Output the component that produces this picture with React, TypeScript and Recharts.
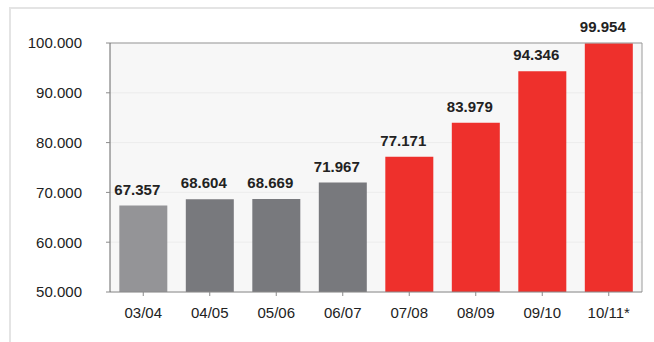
import { Bar, BarChart, CartesianGrid, Cell, LabelList, ReferenceLine, XAxis, YAxis } from 'recharts';

const seasons = ['03/04', '04/05', '05/06', '06/07', '07/08', '08/09', '09/10', '10/11*'];
const revenue = [67357, 68604, 68669, 71967, 77171, 83979, 94346, 99954];
const yTicks = [50000, 60000, 70000, 80000, 90000, 100000];

const BAR_COLORS = ['#949497', '#78797d', '#78797d', '#78797d', '#ee302c', '#ee302c', '#ee302c', '#ee302c'];
const FONT = '"Liberation Sans", Arial, Helvetica, sans-serif';

const chartData = seasons.map((season, i) => ({ season, value: revenue[i] }));

const fmt = (v: number) => v.toLocaleString('de-DE');

// eslint-disable-next-line @typescript-eslint/no-explicit-any
const ValueLabel = (props: any) => {
    const { x, y, width, value } = props;
    return (
        <text
            x={x + width / 2 - 6}
            y={y - 11}
            textAnchor="middle"
            fontFamily={FONT}
            fontSize={15}
            fontWeight="bold"
            fill="#222"
        >
            {fmt(value)}
        </text>
    );
};

const App = () => {
    return (
        <div style={{ position: 'absolute', left: 0, top: 0, width: 654, height: 342, background: '#fff' }}>
            <div
                style={{
                    position: 'absolute',
                    left: 9,
                    top: 7,
                    width: 645,
                    height: 335,
                    borderLeft: '2px solid #e4e4e4',
                    borderTop: '2px solid #e4e4e4',
                }}
            />
            <div style={{ position: 'absolute', left: 0, top: 0 }}>
                <BarChart
                    width={654}
                    height={342}
                    data={chartData}
                    margin={{ top: 43, right: 12, bottom: 20, left: 0 }}
                    barCategoryGap="14%"
                >
                    <CartesianGrid fill="#f7f7f7" stroke="#ececec" vertical={false} />
                    <CartesianGrid
                        horizontal={false}
                        stroke="#9a9a9a"
                        // eslint-disable-next-line @typescript-eslint/no-explicit-any
                        verticalCoordinatesGenerator={({ offset }: any) => [offset.left + offset.width]}
                    />
                    <ReferenceLine y={100000} stroke="#9a9a9a" />
                    <XAxis
                        dataKey="season"
                        height={30}
                        tickSize={4}
                        tickMargin={11}
                        axisLine={{ stroke: '#8a8a8a' }}
                        tickLine={{ stroke: '#8a8a8a' }}
                        tick={{ fontFamily: FONT, fontSize: 15, fill: '#222' }}
                    />
                    <YAxis
                        width={110}
                        domain={[50000, 100000]}
                        ticks={yTicks}
                        allowDataOverflow
                        tickFormatter={fmt}
                        tickSize={4}
                        tickMargin={24}
                        axisLine={{ stroke: '#666' }}
                        tickLine={{ stroke: '#8a8a8a' }}
                        tick={{ fontFamily: FONT, fontSize: 15, fill: '#222' }}
                    />
                    <Bar dataKey="value" isAnimationActive={false}>
                        {chartData.map((_, index) => (
                            <Cell key={`cell-${index}`} fill={BAR_COLORS[index]} />
                        ))}
                        <LabelList dataKey="value" content={<ValueLabel />} />
                    </Bar>
                </BarChart>
            </div>
        </div>
    );
};

export default App;
